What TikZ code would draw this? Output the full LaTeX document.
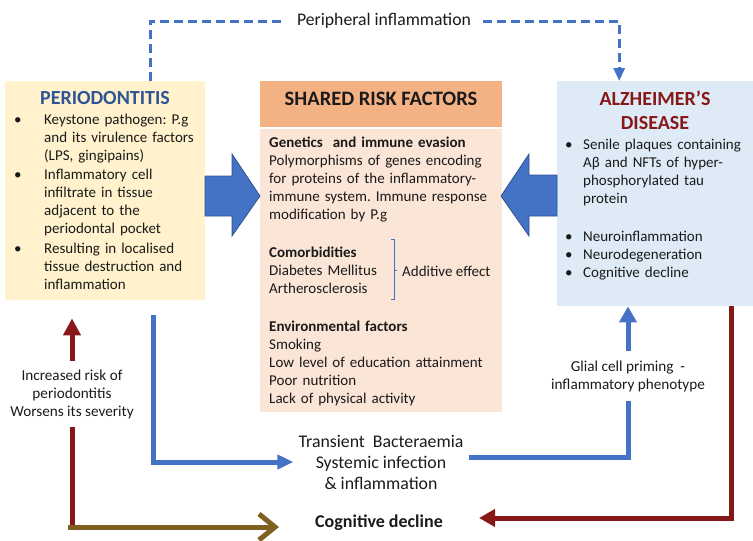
\documentclass[tikz,border=0pt]{standalone}
\usepackage{fontspec}
\setmainfont{Carlito}
\usetikzlibrary{arrows.meta,calc}

\definecolor{boxyellow}{HTML}{FFF2CC}
\definecolor{headorange}{HTML}{F4B183}
\definecolor{bodypeach}{HTML}{FBE5D6}
\definecolor{boxblue}{HTML}{DEEBF7}
\definecolor{lineblue}{HTML}{4472C4}
\definecolor{edgeblue}{HTML}{2F528F}
\definecolor{titleblue}{HTML}{2F5597}
\definecolor{darkred}{HTML}{871818}
\definecolor{olive}{HTML}{7F6020}
\definecolor{txtgray}{HTML}{1A1A1A}

% bullet with hanging indent
\newcommand\bul[1]{\par\noindent\hangindent=#1\hangafter=1\makebox[#1][l]{\textbullet}}

\begin{document}
\frenchspacing
\begin{tikzpicture}[x=1pt,y=-1pt,
    box/.style={inner sep=0pt,anchor=north west},
    txt/.style={inner sep=0pt,text=txtgray,font=\fontsize{15}{18}\selectfont},
    small/.style={text=txtgray,align=center,font=\fontsize{15.2}{18}\selectfont},
    blueline/.style={lineblue,line width=5pt},
    redline/.style={darkred,line width=5pt},
    bigarrow/.style={fill=lineblue,draw=edgeblue,line width=0.8pt}]

\useasboundingbox (0,0) rectangle (753,541);

	% boxes
	\node[box,fill=boxyellow,minimum width=200pt,minimum height=219pt] (perio) at (5,81) {};
	\node[box,fill=headorange,minimum width=242pt,minimum height=46pt] (sharedhead) at (260,81) {};
	\node[box,fill=bodypeach,minimum width=242pt,minimum height=283pt] (sharedbody) at (260,129) {};
	\node[box,fill=boxblue,minimum width=196pt,minimum height=225pt] (alz) at (557,81) {};

	% titles
	\node (periotitle) at (105,98) [text=titleblue,font=\fontsize{20}{22}\selectfont\bfseries] {PERIODONTITIS};
	\node (sharedtitle) at (381,99) [text=txtgray,font=\fontsize{20.5}{22}\selectfont\bfseries] {SHARED RISK FACTORS};
	\node (alztitle) at (655,110) [text=darkred,align=center,font=\fontsize{20}{24}\selectfont\bfseries] {ALZHEIMER’S\\DISEASE};

	\node[txt,anchor=north west,text width=200pt] (periolist) at (14,106) {%
	\bul{30pt}Keystone pathogen: P.g\newline and its virulence factors\newline (LPS, gingipains)
	\vspace{1pt}\bul{30pt}Inflammatory cell\newline infiltrate in tissue\newline adjacent to the\newline periodontal pocket
	\vspace{2pt}\bul{30pt}Resulting in localised\newline tissue destruction and\newline inflammation\par};

	\node[txt,anchor=north west,text width=240pt] (sharedlist) at (269,137) {%
	\textbf{Genetics\ \ and immune evasion}\\
	Polymorphisms of genes encoding\\
	for proteins of the inflammatory-\\
	immune system. Immune response\\
	modification by P.g\\[20pt]
	\textbf{Comorbidities}\\
	Diabetes Mellitus\\
	Artherosclerosis\\[20pt]
	\textbf{Environmental factors}\\
	Smoking\\
	Low level of education attainment\\
	Poor nutrition\\
	Lack of physical activity\par};

	\node[txt,anchor=west] (additive) at (402,271) {Additive effect};
	\draw[lineblue,line width=0.6pt] (391,239) -- (394,239) -- (394,299) -- (391,299)
	      (394,270) -- (397,270);

	\node[txt,anchor=north west,text width=195pt] (alzlist) at (565,131) {%
	\bul{18pt}Senile plaques containing\newline Aβ and NFTs of hyper-\newline phosphorylated tau\newline protein\par
	\vspace{20pt}
	\bul{18pt}Neuroinflammation
	\bul{18pt}Neurodegeneration
	\bul{18pt}Cognitive decline\par};

	% block arrows
	\draw[bigarrow] (205,176) -- (232,176) -- (232,154) -- (260,196) -- (232,236) -- (232,216) -- (205,216) -- cycle;
	\draw[bigarrow] (557,175) -- (529,175) -- (529,154) -- (501,196) -- (529,236) -- (529,216) -- (557,216) -- cycle;

	% peripheral inflammation
	\node (periph) at (384,21) [inner xsep=12pt,text=txtgray,font=\fontsize{17.7}{20}\selectfont] {Peripheral inflammation};
	\draw[lineblue,line width=3pt,dash pattern=on 9pt off 5pt] ($(perio.north)+(45,0)$) |- (periph.west);
	\draw[lineblue,line width=3pt,dash pattern=on 9pt off 5pt,-{Triangle[length=13pt,width=11pt]}] (periph.east) -| ($(alz.north)+(-36,0)$);

	% lower part
	\node (transient) at (381,462) [inner xsep=5pt,text=txtgray,align=center,font=\fontsize{17.8}{21}\selectfont] {Transient\ \ Bacteraemia\\Systemic infection\\\& inflammation};
	\node (cogdec) at (379,523) [inner xsep=36pt,text=txtgray,font=\fontsize{18}{20}\selectfont\bfseries] {Cognitive decline};
	\node[small,inner ysep=8pt] (risk) at (72,394) {Increased risk of\\periodontitis\\Worsens its severity};
	\node[small,inner ysep=9pt] (glial) at (628,376) {Glial cell priming\ \ -\\inflammatory phenotype};
	\coordinate (cornerL) at (72,527);

	\draw[blueline,-{Triangle[length=16pt,width=14pt]}] ($(perio.south)+(48,15)$) |- (transient.west);
	\draw[blueline] ($(transient.east)+(0,-5)$) -| (glial.south);
	\draw[blueline,-{Triangle[length=16pt,width=17pt]}] (glial.north) -- (glial.north |- alz.south);

	\draw[redline] (cornerL) -- (risk.south);
	\draw[redline,-{Triangle[length=17pt,width=17pt]}] (risk.north) -- ($(risk.north |- perio.south)+(0,18)$);
	\draw[olive,line width=5pt,-{Straight Barb[length=16pt,width=26pt]}] ($(cornerL)+(-4,0)$) -- (cornerL -| cogdec.west);

	\draw[redline,-{Triangle[length=16pt,width=17pt]}] ($(alz.south)+(76,0)$) |- ($(cogdec.east)+(0,-5)$);

\end{tikzpicture}
\end{document}
